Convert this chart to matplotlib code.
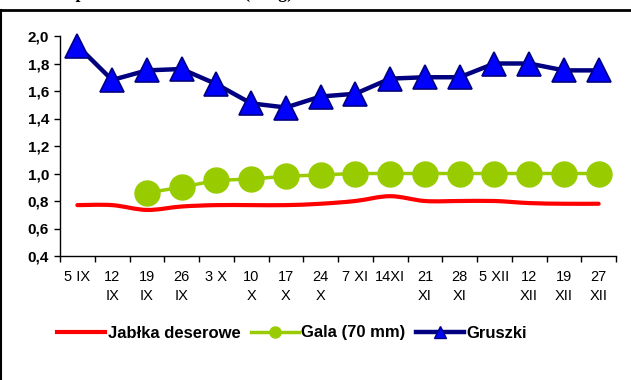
import numpy as np
import matplotlib.pyplot as plt
from matplotlib.path import Path
from matplotlib.patches import PathPatch
from matplotlib.lines import Line2D
from matplotlib.ticker import FuncFormatter

plt.rcParams['font.family'] = ['Liberation Sans', 'DejaVu Sans']

labels = ["5 IX", "12\nIX", "19\nIX", "26\nIX", "3 X", "10\nX", "17\nX", "24\nX",
          "7 XI", "14XI", "21\nXI", "28\nXI", "5 XII", "12\nXII", "19\nXII", "27\nXII"]
jablka = [0.77, 0.77, 0.735, 0.76, 0.77, 0.77, 0.77, 0.78,
          0.80, 0.835, 0.80, 0.80, 0.80, 0.785, 0.78, 0.78]
gala = [0.86, 0.90, 0.95, 0.96, 0.98, 0.99, 1.00, 1.00,
        1.00, 1.00, 1.00, 1.00, 1.00, 1.00]
gala_start = 2
gruszki = [1.93, 1.68, 1.75, 1.76, 1.65, 1.51, 1.48, 1.56,
           1.58, 1.69, 1.70, 1.70, 1.80, 1.80, 1.75, 1.75]


def smooth_path(xs, ys, k=1.0 / 6):
    # Excel-like smoothed line: Catmull-Rom control points for cubic bezier
    verts = [(xs[0], ys[0])]
    codes = [Path.MOVETO]
    n = len(xs)
    for i in range(n - 1):
        x0, y0 = xs[max(i - 1, 0)], ys[max(i - 1, 0)]
        x1, y1 = xs[i], ys[i]
        x2, y2 = xs[i + 1], ys[i + 1]
        x3, y3 = xs[min(i + 2, n - 1)], ys[min(i + 2, n - 1)]
        verts += [(x1 + (x2 - x0) * k, y1 + (y2 - y0) * k),
                  (x2 - (x3 - x1) * k, y2 - (y3 - y1) * k),
                  (x2, y2)]
        codes += [Path.CURVE4] * 3
    return Path(verts, codes)


fig = plt.figure(figsize=(6.31, 3.8), dpi=100)
ax = fig.add_axes([60 / 631, 1 - 256 / 380, 556 / 631, 220 / 380])

x = np.arange(len(labels))
ax.add_patch(PathPatch(smooth_path(x, jablka), fill=False, edgecolor='#FF0000',
                       lw=3, capstyle='round', zorder=2))
ax.plot(x[gala_start:], gala, color='#99CC00', lw=2.5, marker='o', ms=18,
        markerfacecolor='#99CC00', markeredgecolor='#99CC00', zorder=3)
ax.plot(x, gruszki, color='#000080', lw=3.2, marker='^', ms=17.5,
        markerfacecolor='#0000FF', markeredgecolor='#000080', markeredgewidth=1.2,
        zorder=4, clip_on=False)

ax.set_xlim(-0.5, len(labels) - 0.5)
ax.set_ylim(0.4, 2.0)
ax.set_yticks(np.arange(0.4, 2.01, 0.2))
ax.yaxis.set_major_formatter(FuncFormatter(lambda v, p: f"{v:.1f}".replace('.', ',')))
for t in ax.get_yticklabels():
    t.set_fontweight('bold')
ax.tick_params(axis='y', labelsize=11, length=4, width=1, pad=4)

ax.set_xticks(x)
ax.set_xticklabels(labels, fontsize=10.5, linespacing=1.5)
ax.set_xticks(np.arange(-0.5, len(labels), 1), minor=True)
ax.tick_params(axis='x', which='major', length=0, pad=10)
ax.tick_params(axis='x', which='minor', length=4, width=1)

for s in ['top', 'right']:
    ax.spines[s].set_visible(False)
ax.spines['left'].set_linewidth(1)
ax.spines['bottom'].set_linewidth(1)

handles = [
    Line2D([], [], color='#FF0000', lw=3),
    Line2D([], [], color='#99CC00', lw=2.5, marker='o', ms=8,
           markerfacecolor='#99CC00', markeredgecolor='#99CC00'),
    Line2D([], [], color='#000080', lw=3.2, marker='^', ms=8,
           markerfacecolor='#0000FF', markeredgecolor='#000080'),
]
fig.legend(handles, ["Jabłka deserowe", "Gala (70 mm)", "Gruszki"],
           loc='center', bbox_to_anchor=(292 / 631, 1 - 333 / 380), ncol=3,
           frameon=False, prop={'weight': 'bold', 'size': 12},
           handlelength=2.9, handletextpad=0.15, columnspacing=0.6)

# frame lines of the original sheet and the clipped title above it
fig.add_artist(Line2D([0, 1], [1 - 10 / 380] * 2, transform=fig.transFigure,
                      color='black', lw=2))
fig.add_artist(Line2D([1 / 631] * 2, [0, 1 - 10 / 380], transform=fig.transFigure,
                      color='black', lw=1.5))
title_kw = dict(va='baseline', fontsize=13, fontweight='bold', family='Liberation Serif')
fig.text(85 / 631, 1.0 + 2 / 380, "Cena skup", ha='right', **title_kw)
fig.text(293 / 631, 1.0 + 2 / 380, "owoców (zł/kg)", ha='right', **title_kw)

fig.savefig('out.png', dpi=100)
